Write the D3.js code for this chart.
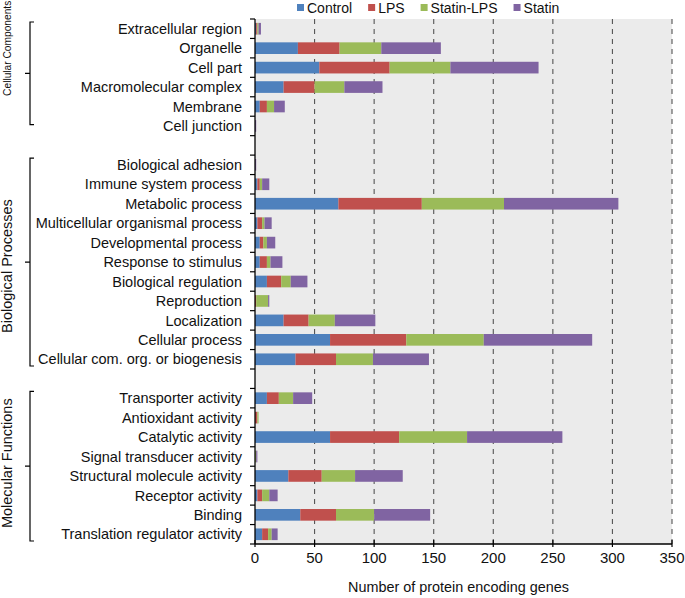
<!DOCTYPE html>
<html>
<head>
<meta charset="utf-8">
<script src="https://cdn.jsdelivr.net/npm/d3@7"></script>
<style>
  body { margin: 0; background: #fff; }
  svg { font-family: "Liberation Sans", Arial, sans-serif; }
</style>
</head>
<body>
<svg id="chart"></svg>
<script>
const groups = ["Cellular Components", "Biological Processes", "Molecular Functions"];
const ccCats = ["Extracellular region", "Organelle", "Cell part", "Macromolecular complex", "Membrane", "Cell junction"];
const bpCats = ["Biological adhesion", "Immune system process", "Metabolic process", "Multicellular organismal process",
  "Developmental process", "Response to stimulus", "Biological regulation", "Reproduction", "Localization",
  "Cellular process", "Cellular com. org. or biogenesis"];
const mfCats = ["Transporter activity", "Antioxidant activity", "Catalytic activity", "Signal transducer activity",
  "Structural molecule activity", "Receptor activity", "Binding", "Translation regulator activity"];

const seriesNames = ["Control", "LPS", "Statin-LPS", "Statin"];
// values in the order ccCats, bpCats, mfCats
const control   = [1, 36, 54, 24, 4, 0,   0, 2, 70, 2, 4, 4, 10, 0, 24, 63, 34,   10, 0, 63, 0, 28, 2, 38, 6];
const lps       = [1, 35, 59, 26, 6, 0,   0, 2, 70, 4, 3, 6, 12, 1, 21, 64, 34,   10, 2, 58, 0, 28, 4, 30, 5];
const statinLps = [1, 35, 51, 25, 6, 0,   0, 2, 69, 2, 3, 3, 8, 10, 22, 65, 31,   12, 1, 57, 1, 28, 6, 32, 3];
const statin    = [2, 50, 74, 32, 9, 1,   1, 6, 96, 6, 7, 10, 14, 1, 34, 91, 47,   16, 0, 80, 1, 40, 7, 47, 5];
const xTicks = [0, 50, 100, 150, 200, 250, 300, 350];

const colors = ["#4f81bd", "#c0504d", "#9bbb59", "#8064a2"];

const width = 685, height = 598;
const margin = { left: 255, right: 13, top: 19, bottom: 54 };

const svg = d3.select("#chart").attr("width", width).attr("height", height);

const groupCats = [ccCats, bpCats, mfCats];
const slots = [...ccCats, "gap1", ...bpCats, "gap2", ...mfCats];
const cats = [...ccCats, ...bpCats, ...mfCats];

const rows = cats.map((c, i) => ({
  cat: c,
  "Control": control[i], "LPS": lps[i], "Statin-LPS": statinLps[i], "Statin": statin[i]
}));

const x = d3.scaleLinear().domain([0, 350]).range([margin.left, width - margin.right]);
const y = d3.scaleBand().domain(slots)
  .range([margin.top, height - margin.bottom])
  .paddingInner(0.4).paddingOuter(0.2);
const step = y.step();

// plot background
svg.append("rect")
  .attr("x", x(0)).attr("y", margin.top)
  .attr("width", x(350) - x(0)).attr("height", height - margin.bottom - margin.top)
  .attr("fill", "#ebebeb");

// dashed gridlines
svg.append("g").selectAll("line")
  .data(xTicks.filter(d => d > 0))
  .join("line")
  .attr("x1", d => x(d)).attr("x2", d => x(d))
  .attr("y1", margin.top).attr("y2", height - margin.bottom)
  .attr("stroke", "#555").attr("stroke-width", 1.1)
  .attr("stroke-dasharray", "5,5");

// stacked bars
const stack = d3.stack().keys(seriesNames)(rows);
svg.append("g").selectAll("g")
  .data(stack)
  .join("g")
  .attr("fill", (d, i) => colors[i])
  .selectAll("rect")
  .data(d => d)
  .join("rect")
  .attr("x", d => x(d[0]))
  .attr("y", d => y(d.data.cat))
  .attr("width", d => x(d[1]) - x(d[0]))
  .attr("height", y.bandwidth());

// y axis line + ticks at slot boundaries
svg.append("line")
  .attr("x1", x(0)).attr("x2", x(0))
  .attr("y1", margin.top).attr("y2", height - margin.bottom)
  .attr("stroke", "#000").attr("stroke-width", 1.3);
svg.append("g").selectAll("line")
  .data(d3.range(slots.length + 1))
  .join("line")
  .attr("x1", x(0) - 5).attr("x2", x(0))
  .attr("y1", i => margin.top + i * step).attr("y2", i => margin.top + i * step)
  .attr("stroke", "#000").attr("stroke-width", 1.2);

// category labels
svg.append("g").selectAll("text")
  .data(cats)
  .join("text")
  .attr("x", x(0) - 13)
  .attr("y", d => y(d) + y.bandwidth() / 2)
  .attr("dy", "0.36em")
  .attr("text-anchor", "end")
  .attr("font-size", 14.5)
  .attr("fill", "#111")
  .text(d => d);

// x axis
const xAxisY = height - margin.bottom;
svg.append("line")
  .attr("x1", x(0)).attr("x2", x(350))
  .attr("y1", xAxisY).attr("y2", xAxisY)
  .attr("stroke", "#000").attr("stroke-width", 1.5);
svg.append("g").selectAll("line")
  .data(xTicks)
  .join("line")
  .attr("x1", d => x(d)).attr("x2", d => x(d))
  .attr("y1", xAxisY - 4).attr("y2", xAxisY + 3)
  .attr("stroke", "#000").attr("stroke-width", 1.2);
svg.append("g").selectAll("text")
  .data(xTicks)
  .join("text")
  .attr("x", d => x(d))
  .attr("y", xAxisY + 19)
  .attr("text-anchor", "middle")
  .attr("font-size", 15)
  .attr("fill", "#111")
  .text(d => d);
svg.append("text")
  .attr("x", (x(0) + x(350)) / 2 - 5)
  .attr("y", height - 6)
  .attr("text-anchor", "middle")
  .attr("font-size", 14.4)
  .attr("fill", "#111")
  .text("Number of protein encoding genes");

// group brackets and labels
const labelShift = [-25, 4, -3];
const labelSize = [10.2, 14.5, 14.5];
groupCats.forEach((gc, gi) => {
  const top = y(gc[0]) - (step - y.bandwidth()) / 2 + 3;
  let bottom = y(gc[gc.length - 1]) + y.bandwidth() + (step - y.bandwidth()) / 2 - 3;
  if (gi === 0) bottom -= 8;
  const mid = (top + bottom) / 2;
  const bx = 30;
  svg.append("path")
    .attr("d", `M${bx + 4},${top} H${bx} V${bottom} H${bx + 4} M${bx},${mid} H${bx - 5}`)
    .attr("fill", "none").attr("stroke", "#000").attr("stroke-width", 1.2);
  svg.append("text")
    .attr("transform", `translate(${gi === 0 ? 11 : 12},${mid + labelShift[gi]}) rotate(-90)`)
    .attr("text-anchor", "middle")
    .attr("font-size", labelSize[gi])
    .attr("fill", "#111")
    .text(groups[gi]);
});

// legend
const legend = svg.append("g").attr("transform", "translate(297,0)");
let lx = 0;
seriesNames.forEach((name, i) => {
  legend.append("rect")
    .attr("x", lx).attr("y", 4)
    .attr("width", 7).attr("height", 7)
    .attr("fill", colors[i]);
  const t = legend.append("text")
    .attr("x", lx + 10).attr("y", 12.5)
    .attr("font-size", 14)
    .attr("fill", "#111")
    .text(name);
  lx += 10 + t.node().getComputedTextLength() + 16;
});
</script>
</body>
</html>
